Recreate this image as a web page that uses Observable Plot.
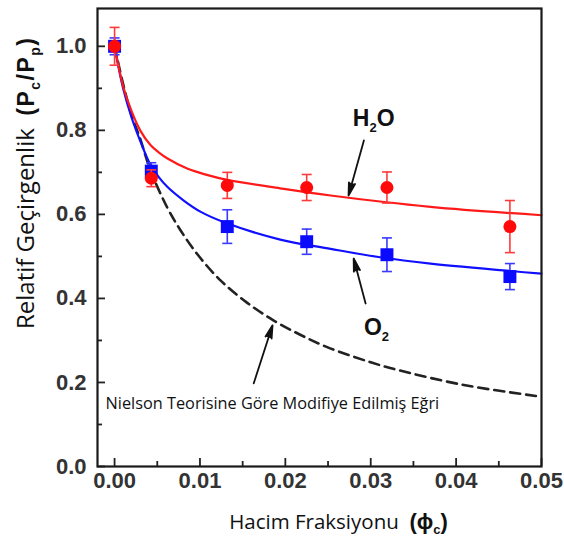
<!DOCTYPE html>
<html><head><meta charset="utf-8">
<script src="https://cdn.jsdelivr.net/npm/d3@7"></script>
<script src="https://cdn.jsdelivr.net/npm/@observablehq/plot@0.6"></script>
<style>
body{margin:0;background:#fff}
#chart{width:564px;height:546px}
</style>
</head><body><div id="chart"></div>
<script>
// measured points
const pointX = [0, 0.0043, 0.0132, 0.0225, 0.0319, 0.0463];
const h2oY   = [1.0, 0.686, 0.669, 0.664, 0.664, 0.571];
const h2oErr = [0.045, 0.02, 0.031, 0.031, 0.037, 0.062];
const o2Y    = [1.0, 0.703, 0.571, 0.535, 0.504, 0.452];
const o2Err  = [0.02, 0.02, 0.04, 0.03, 0.04, 0.031];

// fitted curves
const h2oFitX = [0, 0.001, 0.002, 0.003, 0.0042, 0.0052, 0.0062, 0.0085, 0.0108, 0.0132, 0.0194, 0.0253, 0.037, 0.05];
const h2oFitY = [1.0, 0.905, 0.845, 0.80, 0.765, 0.747, 0.733, 0.709, 0.694, 0.682, 0.662, 0.645, 0.618, 0.598];
const o2FitX  = [0, 0.001, 0.002, 0.003, 0.0042, 0.0052, 0.0062, 0.0081, 0.0101, 0.013, 0.0194, 0.0253, 0.0311, 0.037, 0.05];
const o2FitY  = [1.0, 0.90, 0.83, 0.775, 0.718, 0.688, 0.665, 0.633, 0.606, 0.580, 0.540, 0.518, 0.498, 0.483, 0.459];

// Nielson modified theory curve
const nielsonX = [0, 0.001, 0.002, 0.003, 0.0042, 0.0062, 0.0077, 0.0097, 0.0124, 0.0155, 0.0186, 0.0218, 0.0249, 0.030, 0.0331, 0.0409, 0.05];
const nielsonY = [1.0, 0.91, 0.835, 0.78, 0.705, 0.615, 0.563, 0.505, 0.443, 0.39, 0.348, 0.313, 0.284, 0.248, 0.230, 0.194, 0.166];

// ticks
const xTicks = [0, 0.01, 0.02, 0.03, 0.04, 0.05];
const xMinor = [0.005, 0.015, 0.025, 0.035, 0.045];
const yTicks = [0, 0.2, 0.4, 0.6, 0.8, 1.0];
const yMinor = [0.1, 0.3, 0.5, 0.7, 0.9];

// annotations
const labelTexts = ["H2O", "O2"];
const labelX = [0.0279, 0.0292];
const labelY = [0.827, 0.33];
const arrowX1 = [0.0292, 0.0294, 0.0163];
const arrowY1 = [0.776, 0.388, 0.198];
const arrowX2 = [0.0274, 0.0280, 0.0185];
const arrowY2 = [0.645, 0.495, 0.336];
const noteText = "Nielson Teorisine Göre Modifiye Edilmiş Eğri";
const noteX = -0.00105, noteY = 0.149;

const xLabel = "Hacim Fraksiyonu";
const yLabel = "Relatif Geçirgenlik";

const pts = (ys, es) => pointX.map((x, i) => ({x, y: ys[i], lo: ys[i] - es[i], hi: ys[i] + es[i]}));
const h2o = pts(h2oY, h2oErr);
const o2 = pts(o2Y, o2Err);
const fit = (xs, ys) => xs.map((x, i) => ({x, y: ys[i]}));
const labels = labelTexts.map((t, i) => ({t, x: labelX[i], y: labelY[i]}));
const arrows = arrowX1.map((x1, i) => ({x1, y1: arrowY1[i], x2: arrowX2[i], y2: arrowY2[i]}));

const capSymbol = {draw(ctx, size) { const w = Math.sqrt(size / Math.PI); ctx.moveTo(-w, 0); ctx.lineTo(w, 0); }};
const PW = 564 - 97 - 23, PH = 546 - 8 - 80;

const chart = Plot.plot({
  width: 564, height: 546,
  marginTop: 8, marginRight: 23, marginBottom: 80, marginLeft: 97,
  style: {fontFamily: "'Liberation Sans', Arial, sans-serif", background: "#fff", overflow: "visible"},
  x: {domain: [-0.002, 0.05]},
  y: {domain: [0, 1.09]},
  marks: [
    Plot.axisX({ticks: xTicks, tickSize: 0, tickPadding: 6, tickFormat: d3.format(".2f"), fontSize: 22, fontWeight: "bold", fill: "#333", label: null}),
    Plot.axisY({ticks: yTicks, tickSize: 0, tickPadding: 11, tickFormat: d3.format(".1f"), fontSize: 22, fontWeight: "bold", fill: "#333", label: null}),
    Plot.tickX(xTicks, {x: d => d, insetTop: PH - 8, stroke: "#222", strokeWidth: 1.8}),
    Plot.tickX(xMinor, {x: d => d, insetTop: PH - 5, stroke: "#222", strokeWidth: 1.8}),
    Plot.tickY(yTicks, {y: d => d, insetRight: PW - 8, stroke: "#222", strokeWidth: 1.8}),
    Plot.tickY(yMinor, {y: d => d, insetRight: PW - 5, stroke: "#222", strokeWidth: 1.8}),
    Plot.line(fit(nielsonX, nielsonY), {x: "x", y: "y", stroke: "#222", strokeWidth: 2.6, strokeDasharray: "10,6", curve: "catmull-rom"}),
    Plot.line(fit(o2FitX, o2FitY), {x: "x", y: "y", stroke: "#1010ff", strokeWidth: 2.2, curve: "catmull-rom"}),
    Plot.line(fit(h2oFitX, h2oFitY), {x: "x", y: "y", stroke: "#ff1a1a", strokeWidth: 2.2, curve: "catmull-rom"}),
    Plot.ruleX(o2, {x: "x", y1: "lo", y2: "hi", stroke: "#3a3aff", strokeWidth: 1.6}),
    Plot.dot(o2, {x: "x", y: "lo", symbol: capSymbol, r: 5, stroke: "#3a3aff", strokeWidth: 1.6}),
    Plot.dot(o2, {x: "x", y: "hi", symbol: capSymbol, r: 5, stroke: "#3a3aff", strokeWidth: 1.6}),
    Plot.dot(o2, {x: "x", y: "y", symbol: "square", r: 7.3, fill: "#0a0aff"}),
    Plot.ruleX(h2o, {x: "x", y1: "lo", y2: "hi", stroke: "#ff3a3a", strokeWidth: 1.6}),
    Plot.dot(h2o, {x: "x", y: "lo", symbol: capSymbol, r: 5, stroke: "#ff3a3a", strokeWidth: 1.6}),
    Plot.dot(h2o, {x: "x", y: "hi", symbol: capSymbol, r: 5, stroke: "#ff3a3a", strokeWidth: 1.6}),
    Plot.dot(h2o, {x: "x", y: "y", r: 6.5, fill: "#ff0a0a"}),
    Plot.arrow(arrows, {x1: "x1", y1: "y1", x2: "x2", y2: "y2", stroke: "#111", strokeWidth: 1.8, headLength: 11, headAngle: 28, bend: false}),
    Plot.text(labels, {x: "x", y: "y", text: "t", textAnchor: "start", fontSize: 23, fontWeight: "bold", fill: "#111"}),
    Plot.text([noteText], {x: noteX, y: noteY, text: d => d, textAnchor: "start", fontSize: 16.3, fill: "#111", fontFamily: "'Open Sans', sans-serif"}),
    Plot.text(["XLABEL"], {frameAnchor: "bottom", dx: 19, dy: 62, lineAnchor: "bottom", textAnchor: "middle", fill: "#111"}),
    Plot.text(["YLABEL"], {frameAnchor: "left", dx: -64, dy: -54, rotate: -90, lineAnchor: "bottom", textAnchor: "middle", fill: "#111"}),
    Plot.frame({stroke: "#1a1a1a", strokeWidth: 2.2})
  ]
});
document.getElementById("chart").appendChild(chart);

// filled arrow heads
d3.select(chart).selectAll("g[aria-label=arrow] path").attr("fill", "#111").attr("stroke-linejoin", "miter");

function rich(marker, parts) {
  d3.select(chart).selectAll("text").filter(function () { return this.textContent === marker; }).each(function () {
    const t = d3.select(this);
    t.text(null);
    let shift = 0;
    for (const p of parts) {
      const s = t.append("tspan").text(p.t);
      const target = p.sub ? p.sub : 0;
      if (target !== shift) { s.attr("dy", target - shift); shift = target; }
      if (p.size) s.attr("font-size", p.size);
      if (p.weight) s.attr("font-weight", p.weight);
      if (p.family) s.attr("font-family", p.family);
      if (p.ls) s.attr("letter-spacing", p.ls);
    }
  });
}
const bold = "'Liberation Sans', Arial, sans-serif";
const reg = "'Open Sans', sans-serif";
rich("H2O", [{t: "H"}, {t: "2", sub: 6, size: 13}, {t: "O"}]);
rich("O2", [{t: "O"}, {t: "2", sub: 6, size: 13}]);
rich("XLABEL", [
  {t: xLabel + "\u00a0\u00a0", size: 20.5, family: reg},
  {t: "(\u03d5", size: 22, weight: "bold", family: bold},
  {t: "c", sub: 5, size: 13, weight: "bold", family: bold},
  {t: ")", size: 22, weight: "bold", family: bold}
]);
rich("YLABEL", [
  {t: yLabel + "\u00a0\u00a0", size: 24, family: reg},
  {t: "(P", size: 23, weight: "bold", family: bold, ls: 1.5},
  {t: "c", sub: 6, size: 14, weight: "bold", family: bold, ls: 1.5},
  {t: "/P", size: 23, weight: "bold", family: bold, ls: 1.5},
  {t: "p", sub: 6, size: 14, weight: "bold", family: bold, ls: 1.5},
  {t: ")", size: 23, weight: "bold", family: bold}
]);
</script>
</body></html>
